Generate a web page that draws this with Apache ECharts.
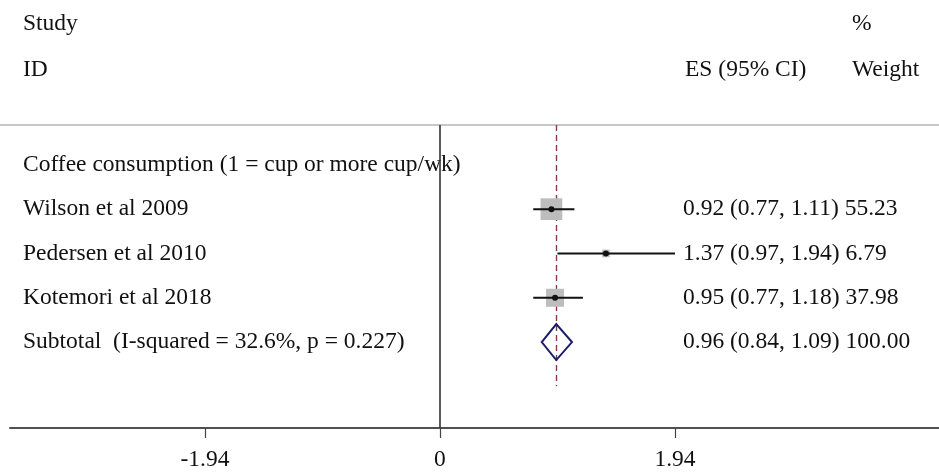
<!DOCTYPE html>
<html><head><meta charset="utf-8">
<script src="https://cdn.jsdelivr.net/npm/echarts@6/dist/echarts.min.js"></script>
<style>html,body{margin:0;padding:0;background:#fff}#c{width:939px;height:472px}</style>
</head><body><div id="c"></div>
<script>
// ---- data ----
const groupLabel = 'Coffee consumption (1 = cup or more cup/wk)';
const studies = ['Wilson et al 2009', 'Pedersen et al 2010', 'Kotemori et al 2018'];
const es = [0.92, 1.37, 0.95];
const lo = [0.77, 0.97, 0.77];
const hi = [1.11, 1.94, 1.18];
const weight = [55.23, 6.79, 37.98];
const subtotalLabel = 'Subtotal  (I-squared = 32.6%, p = 0.227)';
const subtotal = [0.96, 0.84, 1.09, 100.00];
const xTicks = [-1.94, 0, 1.94];
const headerLeft = ['Study', 'ID'];
const headerMid = ['', 'ES (95% CI)'];
const headerRight = ['%', 'Weight'];

const FONT = '"Liberation Serif", "Times New Roman", serif';
const FS = 23.5;
const fmt = v => v.toFixed(2);

const studyData = studies.map((s, i) => [es[i], lo[i], hi[i], weight[i], i + 1]);
const textRows = [[groupLabel, '', 0]];
studies.forEach((s, i) => textRows.push([s, fmt(es[i]) + ' (' + fmt(lo[i]) + ', ' + fmt(hi[i]) + ') ' + fmt(weight[i]), i + 1]));
textRows.push([subtotalLabel, fmt(subtotal[0]) + ' (' + fmt(subtotal[1]) + ', ' + fmt(subtotal[2]) + ') ' + fmt(subtotal[3]), 4]);

const chart = echarts.init(document.getElementById('c'));
const headerGraphics = [];
[24, 70].forEach((y, i) => {
  const st = t => ({text: t, font: FS + 'px ' + FONT, fill: '#111', verticalAlign: 'middle'});
  headerGraphics.push({type: 'text', x: 23, y: y, style: st(headerLeft[i])});
  if (headerMid[i]) headerGraphics.push({type: 'text', x: 685, y: y, style: st(headerMid[i])});
  headerGraphics.push({type: 'text', x: 852, y: y, style: st(headerRight[i])});
});
headerGraphics.push({type: 'line', shape: {x1: 0, y1: 125, x2: 939, y2: 125}, style: {stroke: '#b5b5b5', lineWidth: 1.5}});

chart.setOption({
  animation: false,
  backgroundColor: '#fff',
  graphic: headerGraphics,
  grid: {left: 10, right: 0, top: 125, bottom: 37},
  xAxis: {
    type: 'value', min: -3.55, max: 4.12,
    axisLine: {show: true, onZero: false, lineStyle: {color: '#505050', width: 2}},
    axisTick: {show: true, customValues: xTicks, length: 10, lineStyle: {color: '#444', width: 1.2}},
    axisLabel: {customValues: xTicks, formatter: v => String(v), fontFamily: FONT, fontSize: FS, color: '#111', margin: 20},
    splitLine: {show: false}
  },
  yAxis: {
    type: 'value', inverse: true, min: -0.9, max: 5.94, show: false
  },
  series: [
    {
      type: 'custom', z: 5,
      data: textRows,
      clip: false,
      renderItem: (params, api) => {
        const p = api.coord([0, api.value(2)]);
        return {type: 'group', children: [
          {type: 'text', style: {text: textRows[params.dataIndex][0], x: 23, y: p[1], verticalAlign: 'middle', font: FS + 'px ' + FONT, fill: '#111'}},
          {type: 'text', style: {text: textRows[params.dataIndex][1], x: 683, y: p[1], verticalAlign: 'middle', font: FS + 'px ' + FONT, fill: '#111'}}
        ]};
      },
      markLine: {
        silent: true, symbol: 'none', label: {show: false}, z: 6,
        data: [
          [{coord: [0, -0.9], lineStyle: {color: '#333', width: 1.6, type: 'solid'}}, {coord: [0, 5.94]}],
          [{coord: [subtotal[0], -0.9], lineStyle: {color: '#8a3b46', width: 1.4, type: [6, 4]}}, {coord: [subtotal[0], 5.0]}]
        ]
      }
    },
    {
      type: 'custom', z: 6,
      data: studyData,
      renderItem: (params, api) => {
        const y = api.value(4);
        const c = api.coord([api.value(0), y]);
        const a = api.coord([api.value(1), y]);
        const b = api.coord([api.value(2), y]);
        const s = Math.sqrt(api.value(3)) * 2.92;
        return {type: 'group', children: [
          {type: 'rect', shape: {x: c[0] - s / 2, y: c[1] - s / 2, width: s, height: s}, style: {fill: '#bdbdbd'}},
          {type: 'line', shape: {x1: a[0], y1: a[1], x2: b[0], y2: b[1]}, style: {stroke: '#111', lineWidth: 2}},
          {type: 'circle', shape: {cx: c[0], cy: c[1], r: 3}, style: {fill: '#111'}}
        ]};
      }
    },
    {
      type: 'custom', z: 6,
      data: [[subtotal[0], subtotal[1], subtotal[2], 4]],
      renderItem: (params, api) => {
        const y = api.value(3);
        const c = api.coord([api.value(0), y]);
        const a = api.coord([api.value(1), y]);
        const b = api.coord([api.value(2), y]);
        return {type: 'polygon', shape: {points: [[a[0], c[1]], [c[0], c[1] - 18], [b[0], c[1]], [c[0], c[1] + 18]]}, style: {fill: 'none', stroke: '#1c1c6a', lineWidth: 2}};
      }
    }
  ]
});
</script></body></html>
